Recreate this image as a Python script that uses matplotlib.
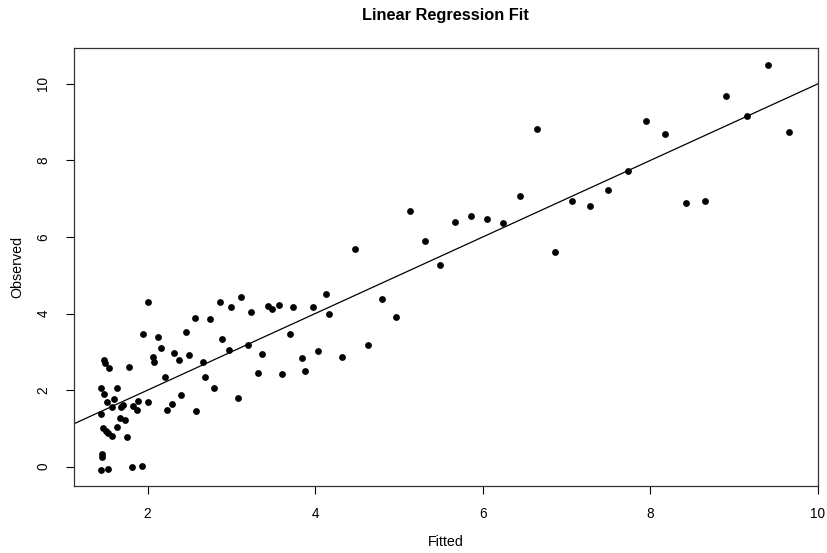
import matplotlib
matplotlib.use("Agg")
import matplotlib.pyplot as plt
import numpy as np

plt.rcParams['font.family'] = ['Liberation Sans', 'DejaVu Sans']

# values
fitted = [
    2.01, 1.95, 2.13, 2.16, 2.06, 2.08, 1.48, 1.49, 1.54, 1.78,
    2.21, 2.31, 2.37, 2.46, 2.49, 2.56, 2.75, 2.66, 2.68, 2.79,
    2.86, 3.00, 3.11, 2.89, 2.97, 3.23, 3.20, 3.36, 3.32, 3.08,
    3.44, 3.48, 3.57, 3.74, 3.70, 3.61, 2.40, 2.58, 2.29, 2.23,
    2.00, 1.88, 1.87, 1.82, 1.71, 1.68, 1.60, 1.57, 1.51, 1.45,
    1.48, 1.64, 1.45, 1.67, 1.73, 1.63, 1.47, 1.50, 1.53, 1.57,
    1.76, 1.46, 1.46, 1.45, 1.53, 1.81, 1.93,
    3.98, 4.13, 4.17, 4.48, 5.31, 5.49, 4.80, 4.96, 3.84, 4.03,
    3.88, 4.32, 4.63,
    5.13, 5.67, 5.86,
    6.05, 6.24, 6.44, 6.65, 6.86, 7.07, 7.28, 7.50, 7.73, 7.95,
    8.18, 8.42, 8.65, 8.90, 9.15, 9.40, 9.65,
]
observed = [
    4.31, 3.47, 3.38, 3.09, 2.86, 2.74, 2.79, 2.72, 2.59, 2.61,
    2.34, 2.98, 2.79, 3.53, 2.91, 3.88, 3.86, 2.74, 2.34, 2.05,
    4.31, 4.16, 4.42, 3.33, 3.05, 4.05, 3.19, 2.94, 2.46, 1.80,
    4.20, 4.11, 4.22, 4.18, 3.46, 2.43, 1.88, 1.46, 1.65, 1.47,
    1.70, 1.72, 1.49, 1.59, 1.62, 1.57, 1.76, 1.57, 1.69, 2.05,
    1.91, 2.06, 1.38, 1.26, 1.22, 1.03, 1.01, 0.93, 0.88, 0.79,
    0.78, 0.34, 0.25, -0.08, -0.06, -0.02, 0.03,
    4.17, 4.52, 3.99, 5.68, 5.90, 5.26, 4.39, 3.92, 2.84, 3.02,
    2.50, 2.86, 3.17,
    6.67, 6.38, 6.56,
    6.47, 6.37, 7.07, 8.83, 5.61, 6.93, 6.80, 7.23, 7.72, 9.03,
    8.69, 6.89, 6.94, 9.69, 9.17, 10.50, 8.75,
]
x_ticks = [2, 4, 6, 8, 10]
y_ticks = [0, 2, 4, 6, 8, 10]


def main():
    fig = plt.figure(figsize=(8.27, 5.53), dpi=100)
    ax = fig.add_axes([0.0895, 0.1212, 0.8995, 0.7911])

    ax.scatter(fitted, observed, s=24, color='black', linewidths=0, zorder=3)
    ax.axline((0, 0), slope=1, color='black', linewidth=0.9)

    # R style: pad the data range by 4%
    xr = max(fitted) - min(fitted)
    yr = max(observed) - min(observed)
    ax.set_xlim(min(fitted) - 0.04 * xr, max(fitted) + 0.04 * xr)
    ax.set_ylim(min(observed) - 0.04 * yr, max(observed) + 0.04 * yr)

    ax.set_xticks(x_ticks)
    ax.set_yticks(y_ticks)
    ax.set_yticklabels([str(v) for v in y_ticks], rotation=90, va='center')
    ax.tick_params(direction='out', length=6, width=0.8, labelsize=9.8,
                   pad=9, colors='black')
    ax.tick_params(axis='y', pad=11)
    for sp in ax.spines.values():
        sp.set_linewidth(0.9)
        sp.set_color('#333333')

    ax.set_xlabel("Fitted", fontsize=10.3, labelpad=10.5)
    ax.set_ylabel("Observed", fontsize=10.3, labelpad=9)
    fig.text(0.539, 1 - 20 / 553, "Linear Regression Fit", ha='center',
             va='baseline', fontsize=11.8, fontweight='bold')

    fig.savefig("out.png", dpi=100)


if __name__ == "__main__":
    main()
